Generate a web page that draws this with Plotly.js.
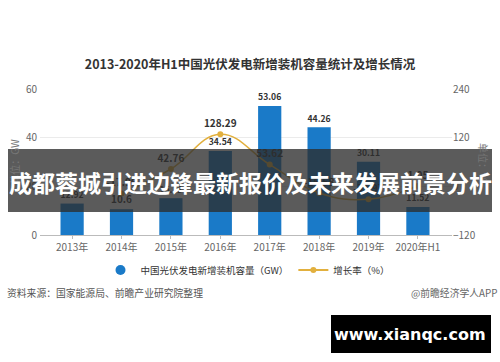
<!DOCTYPE html>
<html><head><meta charset="utf-8">
<script src="https://cdn.plot.ly/plotly-3.0.1.min.js"></script>
<style>html,body{margin:0;padding:0;background:#fff}#chart{width:500px;height:362px}</style>
</head><body><div id="chart"></div>
<script>
const categories = ["2013年","2014年","2015年","2016年","2017年","2018年","2019年","2020年H1"];
const capacityGW = [12.92, 10.6, 15.13, 34.54, 53.06, 44.26, 30.11, 11.52];
const growthPct = [null, -17.96, 42.76, 128.29, 53.62, -16.58, -31.97, 1.05];
const leftTicks = [0, 20, 40, 60];
const rightTicks = [-120, 0, 120, 240];
const titleText = "2013-2020年H1中国光伏发电新增装机容量统计及增长情况";
const barName = "中国光伏发电新增装机容量（GW）";
const lineName = "增长率（%）";
const bannerText = "成都蓉城引进边锋最新报价及未来发展前景分析";
const sourceText = "资料来源：国家能源局、前瞻产业研究院整理";
const creditText = "@前瞻经济学人APP";
const siteText = "www.xianqc.com";

const F = '"Noto Sans CJK SC", "Noto Sans", sans-serif';
const L = 40, R = 452, T = 89, B = 235;
const px = v => (v - L) / (R - L);
const py = v => (B - v) / (B - T);
const blue = 'rgb(26,122,200)';
const gold = 'rgb(226,176,62)';

const fmt = v => v === null ? '' : String(v);

const traces = [
  {type:'bar', x:categories, y:capacityGW, name:barName, showlegend:false,
   marker:{color:blue}, width:0.47,
   text:capacityGW.map(fmt), textposition:'outside', cliponaxis:false,
   textfont:{family:F, size:10, color:'#333', weight:'bold'}},
  {type:'scatter', mode:'lines+markers+text', x:categories, y:growthPct, yaxis:'y2',
   name:lineName, showlegend:false, connectgaps:false,
   line:{color:gold, width:1.5, shape:'spline', smoothing:1.2},
   marker:{color:gold, size:6},
   text:growthPct.map(v => v === null ? '' : v.toFixed(2)), textposition:'top center',
   cliponaxis:false, textfont:{family:F, size:10, color:'#333', weight:'bold'}},
  {type:'scatter', mode:'markers', x:[null], y:[null], name:barName,
   marker:{color:blue, size:10, symbol:'circle'}},
  {type:'scatter', mode:'lines+markers', x:[null], y:[null], name:lineName, yaxis:'y2',
   line:{color:gold, width:2}, marker:{color:gold, size:6}}
];

const layout = {
  width:500, height:362, paper_bgcolor:'#fff', plot_bgcolor:'#fff',
  margin:{l:L, r:500-R, t:T, b:362-B},
  font:{family:F, size:10, color:'#666'},
  title:{text:titleText, x:0.5, xref:'container', y:1-65/362, yref:'container', yanchor:'middle',
         font:{family:F, size:12.5, color:'#333', weight:'bold'}},
  xaxis:{type:'category', range:[-0.65, 7.69], showgrid:false, showline:true, linecolor:'#bbb', linewidth:1,
         ticks:'outside', ticklen:3, tickcolor:'#bbb', tickfont:{family:F, size:10, color:'#666'}, fixedrange:true},
  yaxis:{range:[0,60], tickvals:leftTicks, showgrid:true, gridcolor:'#ebebeb', zeroline:false,
         showline:false, ticks:'', ticklabelstandoff:2, tickfont:{family:F, size:10, color:'#666'},
         title:{text:'单位：GW', standoff:4, font:{family:F, size:10, color:'#777'}}},
  yaxis2:{range:[-120,240], tickvals:rightTicks, overlaying:'y', side:'right', showgrid:false,
          zeroline:false, showline:false, ticks:'', tickfont:{family:F, size:10, color:'#666'}},
  legend:{orientation:'h', x:px(248), xanchor:'center', y:py(270), yanchor:'middle',
          font:{family:F, size:9.5, color:'#333'}, itemwidth:30, tracegroupgap:0, bgcolor:'rgba(0,0,0,0)'},
  shapes:[
    {type:'rect', xref:'paper', yref:'paper', x0:px(8), x1:px(492), y0:py(149), y1:py(212),
     fillcolor:'rgba(45,45,45,0.78)', line:{width:0}, layer:'above'},
    {type:'rect', xref:'paper', yref:'paper', x0:px(331), x1:px(491), y0:py(315), y1:py(353),
     fillcolor:'#000', line:{width:0}, layer:'above'}
  ],
  annotations:[
    {xref:'paper', yref:'paper', x:px(484), xanchor:'center', y:py(162), yanchor:'middle', text:'单位：%', textangle:90, showarrow:false,
     font:{family:F, size:10, color:'#777'}},
    {xref:'paper', yref:'paper', x:px(250), xanchor:'center', y:py(182), yanchor:'middle', text:bannerText, showarrow:false,
     font:{family:F, size:23, color:'#fff', weight:'bold'}},
    {xref:'paper', yref:'paper', x:px(5), xanchor:'left', y:py(293), yanchor:'middle', text:sourceText, showarrow:false,
     font:{family:F, size:9.8, color:'#555'}},
    {xref:'paper', yref:'paper', x:px(499), xanchor:'right', y:py(293), yanchor:'middle', text:creditText, showarrow:false,
     font:{family:F, size:9.8, color:'#666'}},
    {xref:'paper', yref:'paper', x:px(410), xanchor:'center', y:py(334), yanchor:'middle', text:siteText, showarrow:false,
     font:{family:'"DejaVu Sans", sans-serif', size:16, color:'#fff', weight:'bold'}}
  ]
};
Plotly.newPlot('chart', traces, layout, {displayModeBar:false, staticPlot:true});
</script></body></html>
